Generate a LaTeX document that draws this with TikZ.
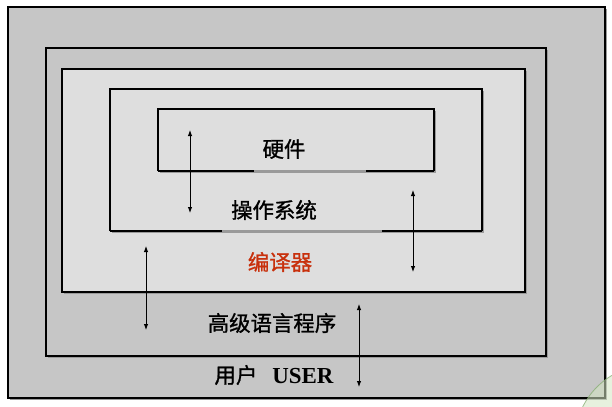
\documentclass[tikz,border=0pt]{standalone}
\usepackage{fontspec}
\newfontfamily\cjk{Noto Sans CJK SC}[FakeBold=1.2]
\newfontfamily\latinf{Liberation Serif}
\usetikzlibrary{arrows.meta}
\definecolor{dgray}{HTML}{C6C6C6}
\definecolor{lgray}{HTML}{DEDEDE}
\definecolor{shd}{HTML}{9A9A9A}
\definecolor{redt}{HTML}{C8300C}
\definecolor{gfill}{HTML}{D4E6C4}
\definecolor{gline}{HTML}{7FA86A}
\tikzset{
  box/.style={line width=1.1bp, draw=black},
  lbl/.style={font=\cjk\fontsize{21.5}{24}\selectfont, inner sep=0pt},
  dbl/.style={line width=0.9bp, {Latex[length=6bp,width=4.5bp]}-{Latex[length=6bp,width=4.5bp]}},
}
\begin{document}
\begin{tikzpicture}[x=1bp,y=-1bp]
\useasboundingbox (0,0) rectangle (612,406);
\fill[white] (0,0) rectangle (612,406);
% outer user region
\fill[shd] (10,9) rectangle (607,400);
\fill[dgray] (8,7) rectangle (605,398);
\draw[box] (8,7) rectangle (605,398);
% high-level language
\fill[shd] (48,50) rectangle (548,358);
\fill[dgray] (46,48) rectangle (546,356);
\draw[box] (46,48) rectangle (546,356);
% compiler
\fill[shd] (64,71) rectangle (527,294);
\fill[lgray] (62,69) rectangle (525,292);
\draw[box] (62,69) rectangle (525,292);
% OS
\fill[shd] (112,91) rectangle (484,233);
\fill[lgray] (110,89) rectangle (482,231);
\draw[box] (110,231) -- (110,89) -- (482,89) -- (482,231);
\draw[box] (110,231) -- (222,231);
\draw[box] (382,231) -- (482,231);
\draw[line width=1.1bp, draw=shd] (222,231) -- (382,231);
% hardware
\fill[shd] (160,111) rectangle (436,173);
\fill[lgray] (158,109) rectangle (434,171);
\draw[box] (158,171) -- (158,109) -- (434,109) -- (434,171);
\draw[box] (158,171) -- (254,171);
\draw[box] (366,171) -- (434,171);
\draw[line width=1.1bp, draw=shd] (254,171) -- (366,171);
% labels
\node[lbl] (hw) at (284,149) {硬件};
\node[lbl] (os) at (274,210) {操作系统};
\node[lbl, text=redt] (cp) at (280,262) {编译器};
\node[lbl] (hl) at (272,323) {高级语言程序};
\node[lbl] (us) at (274,375) {用户\hspace{0.7em}{\latinf\bfseries\fontsize{23}{25}\selectfont USER}};
% arrows
\coordinate (a1t) at (190,130); \coordinate (a1b) at (190,213);
\coordinate (a2t) at (413,190); \coordinate (a2b) at (413,272);
\coordinate (a3t) at (146,246); \coordinate (a3b) at (146,330);
\coordinate (a4t) at (359,304); \coordinate (a4b) at (359,387);
\draw[dbl] (a1t) -- (a1b);
\draw[dbl] (a2t) -- (a2b);
\draw[dbl] (a3t) -- (a3b);
\draw[dbl] (a4t) -- (a4b);
% decorative green circle at corner
\begin{scope}
\clip (0,0) rectangle (612,406);
\fill[gfill, opacity=0.55] (650,440) circle (75);
\draw[gline, opacity=0.7, line width=0.8bp] (650,440) circle (75);
\end{scope}
\end{tikzpicture}
\end{document}
